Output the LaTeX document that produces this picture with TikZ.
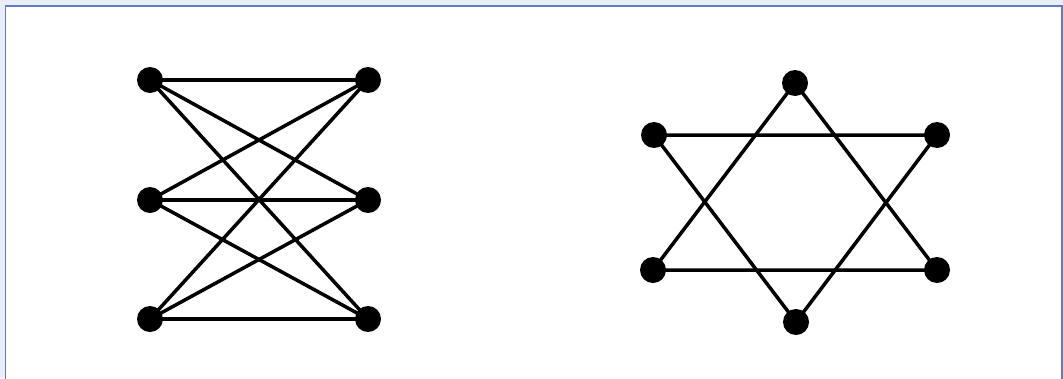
\documentclass[tikz,border=0pt]{standalone}
\definecolor{outerbg}{RGB}{232,238,248}
\definecolor{framecol}{RGB}{100,120,195}
\tikzset{
  vtx/.style={circle,fill=black,inner sep=0pt,minimum size=26pt},
  edge/.style={line width=3.5pt,black}
}
\begin{document}
\begin{tikzpicture}[x=1pt,y=-1pt]
\useasboundingbox (0,0) rectangle (1063,378);
\fill[outerbg] (0,0) rectangle (1063,378);
\begin{scope}
\clip (0,0) rectangle (1063,378);
\draw[framecol,line width=1.5pt,fill=white] (5.5,6) rectangle (1062,390);
\end{scope}
% left graph K3,3
\node[vtx] (a1) at (150,80) {};
\node[vtx] (a2) at (150,200) {};
\node[vtx] (a3) at (150,319) {};
\node[vtx] (b1) at (368,80) {};
\node[vtx] (b2) at (368,200) {};
\node[vtx] (b3) at (368,319) {};
\foreach \u in {a1,a2,a3}{\foreach \v in {b1,b2,b3}{\draw[edge] (\u.center) -- (\v.center);}}
% right graph: two triangles
\node[vtx] (t) at (795,83) {};
\node[vtx] (ul) at (654,135) {};
\node[vtx] (ur) at (937,135) {};
\node[vtx] (ll) at (653,270) {};
\node[vtx] (lr) at (937,270) {};
\node[vtx] (bt) at (796,322) {};
\draw[edge] (t.center) -- (ll.center) -- (lr.center) -- (t.center);
\draw[edge] (bt.center) -- (ul.center) -- (ur.center) -- (bt.center);
\end{tikzpicture}
\end{document}
